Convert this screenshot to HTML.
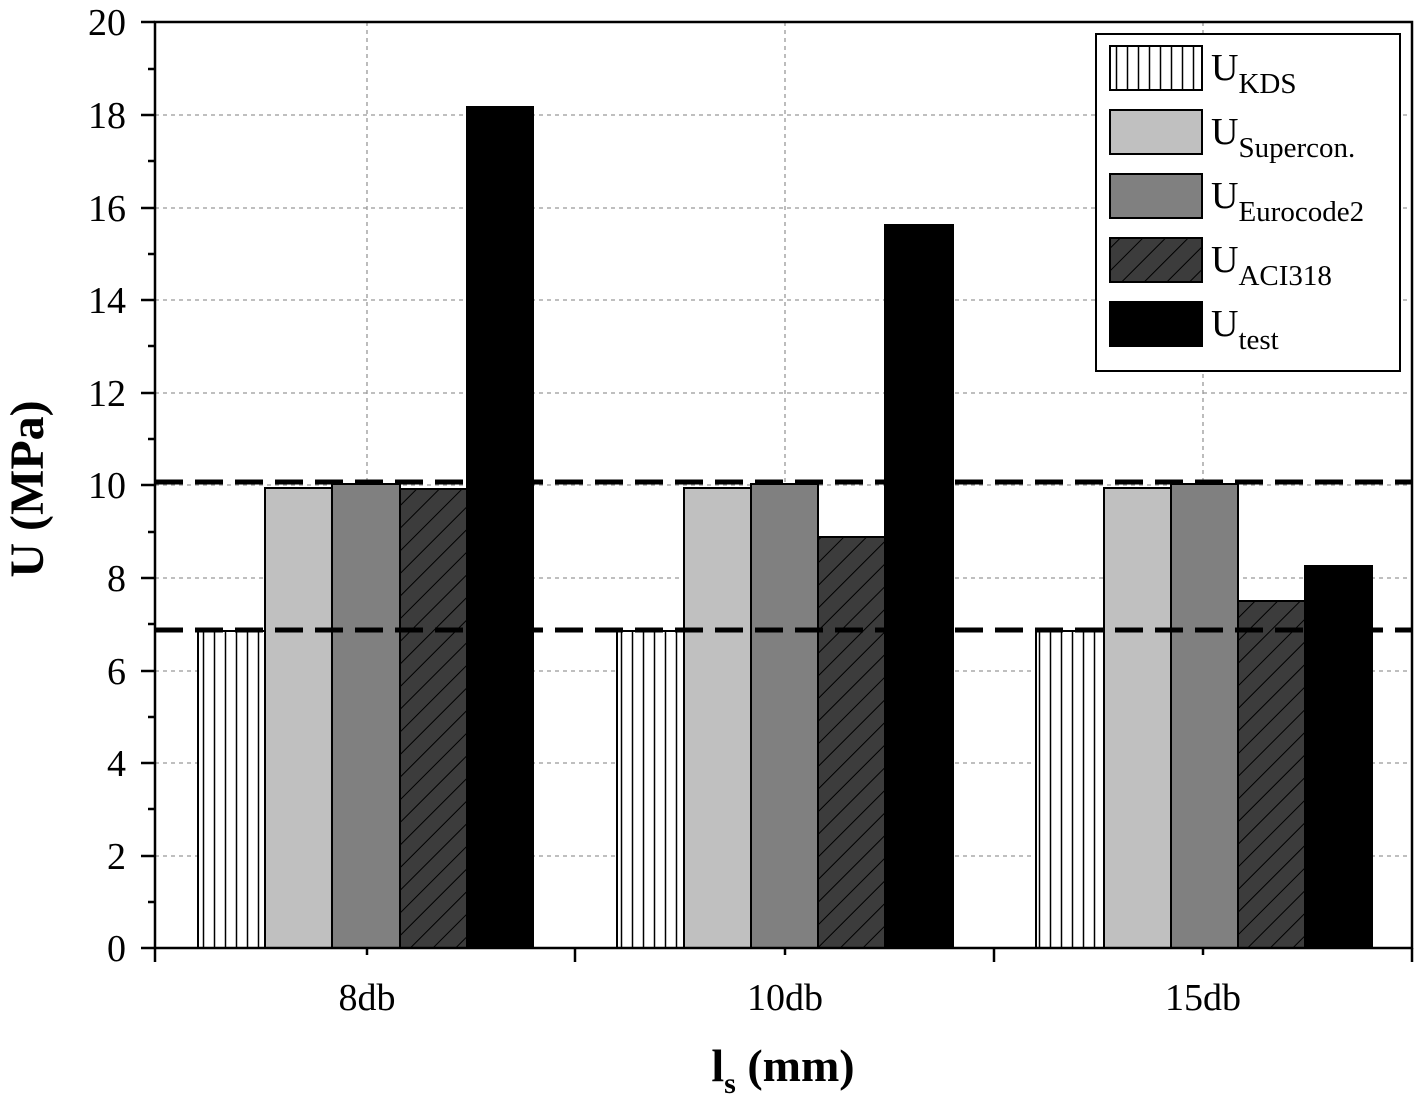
<!DOCTYPE html>
<html><head><meta charset="utf-8"><style>body{margin:0;background:#fff}</style></head><body>
<svg width="1420" height="1101" viewBox="0 0 1420 1101" xmlns="http://www.w3.org/2000/svg" font-family="Liberation Serif, serif">
<defs>
<pattern id="vl" width="11" height="10" patternUnits="userSpaceOnUse"><rect width="11" height="10" fill="#fff"/><line x1="5.5" y1="0" x2="5.5" y2="10" stroke="#000" stroke-width="1.5"/></pattern>
<pattern id="hat" width="16" height="16" patternUnits="userSpaceOnUse" patternTransform="rotate(45)"><rect width="16" height="16" fill="#3c3c3c"/><line x1="0" y1="0" x2="0" y2="16" stroke="#000" stroke-width="2"/></pattern>
</defs>
<rect width="1420" height="1101" fill="#fff"/>
<g stroke="#999" stroke-width="1.3" stroke-dasharray="4,4">
<line x1="367" y1="22" x2="367" y2="948"/><line x1="785" y1="22" x2="785" y2="948"/><line x1="1203" y1="22" x2="1203" y2="948"/>
<line x1="155" y1="856" x2="1412" y2="856"/><line x1="155" y1="763" x2="1412" y2="763"/><line x1="155" y1="671" x2="1412" y2="671"/><line x1="155" y1="578" x2="1412" y2="578"/><line x1="155" y1="485" x2="1412" y2="485"/><line x1="155" y1="393" x2="1412" y2="393"/><line x1="155" y1="300" x2="1412" y2="300"/><line x1="155" y1="208" x2="1412" y2="208"/><line x1="155" y1="115" x2="1412" y2="115"/>
</g>
<g stroke="#000" stroke-width="2">
<rect x="198" y="631" width="67" height="317" fill="url(#vl)"/>
<rect x="265" y="488" width="67" height="460" fill="#c0c0c0"/>
<rect x="332" y="484" width="68" height="464" fill="#808080"/>
<rect x="400" y="489" width="67" height="459" fill="url(#hat)"/>
<rect x="467" y="107" width="66" height="841" fill="#000"/>
<rect x="617" y="631" width="67" height="317" fill="url(#vl)"/>
<rect x="684" y="488" width="67" height="460" fill="#c0c0c0"/>
<rect x="751" y="484" width="67" height="464" fill="#808080"/>
<rect x="818" y="537" width="67" height="411" fill="url(#hat)"/>
<rect x="885" y="225" width="68" height="723" fill="#000"/>
<rect x="1036" y="631" width="68" height="317" fill="url(#vl)"/>
<rect x="1104" y="488" width="67" height="460" fill="#c0c0c0"/>
<rect x="1171" y="484" width="67" height="464" fill="#808080"/>
<rect x="1238" y="601" width="67" height="347" fill="url(#hat)"/>
<rect x="1305" y="566" width="67" height="382" fill="#000"/>
</g>
<g stroke="#000" stroke-width="5" stroke-dasharray="28,12">
<line x1="155" y1="482" x2="1412" y2="482"/><line x1="155" y1="630" x2="1412" y2="630"/>
</g>
<rect x="155" y="22" width="1257" height="926" fill="none" stroke="#000" stroke-width="2.5"/>
<g stroke="#000" stroke-width="2.5">
<line x1="155" y1="948" x2="155" y2="962"/><line x1="575" y1="948" x2="575" y2="962"/><line x1="994" y1="948" x2="994" y2="962"/><line x1="1412" y1="948" x2="1412" y2="962"/>
<line x1="367" y1="948" x2="367" y2="955"/><line x1="785" y1="948" x2="785" y2="955"/><line x1="1203" y1="948" x2="1203" y2="955"/>
<path d="M141 948h14M141 856h14M141 763h14M141 671h14M141 578h14M141 485h14M141 393h14M141 300h14M141 208h14M141 115h14M141 22h14"/>
<path d="M148 902h7M148 809h7M148 717h7M148 624h7M148 532h7M148 439h7M148 346h7M148 254h7M148 161h7M148 69h7"/>
</g>
<g font-size="38" text-anchor="end">
<text x="126" y="961">0</text><text x="126" y="869">2</text><text x="126" y="776">4</text><text x="126" y="684">6</text><text x="126" y="591">8</text><text x="126" y="498">10</text><text x="126" y="406">12</text><text x="126" y="313">14</text><text x="126" y="221">16</text><text x="126" y="128">18</text><text x="126" y="35">20</text>
</g>
<g font-size="38" text-anchor="middle">
<text x="367" y="1010">8db</text><text x="785" y="1010">10db</text><text x="1203" y="1010">15db</text>
</g>
<text x="783" y="1081" font-size="46" font-weight="bold" text-anchor="middle">l<tspan font-size="30" dy="12">s</tspan><tspan dy="-12"> (mm)</tspan></text>
<text transform="translate(43,489) rotate(-90)" font-size="48" font-weight="bold" text-anchor="middle">U (MPa)</text>
<rect x="1096" y="34" width="304" height="337" fill="#fff" stroke="#000" stroke-width="2"/>
<g stroke="#000" stroke-width="2">
<rect x="1110" y="46" width="92" height="44" fill="url(#vl)"/>
<rect x="1110" y="110" width="92" height="44" fill="#c0c0c0"/>
<rect x="1110" y="174" width="92" height="44" fill="#808080"/>
<rect x="1110" y="238" width="92" height="44" fill="url(#hat)"/>
<rect x="1110" y="302" width="92" height="44" fill="#000"/>
</g>
<g font-size="38">
<text x="1211" y="80">U<tspan font-size="29" dy="13">KDS</tspan></text>
<text x="1211" y="144">U<tspan font-size="29" dy="13">Supercon.</tspan></text>
<text x="1211" y="208">U<tspan font-size="29" dy="13">Eurocode2</tspan></text>
<text x="1211" y="272">U<tspan font-size="29" dy="13">ACI318</tspan></text>
<text x="1211" y="336">U<tspan font-size="29" dy="13">test</tspan></text>
</g>
</svg>
</body></html>
